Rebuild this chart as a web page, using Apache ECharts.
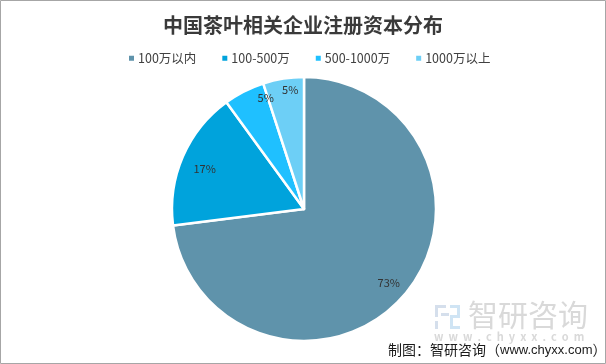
<!DOCTYPE html>
<html>
<head>
<meta charset="utf-8">
<style>
  html, body { margin: 0; padding: 0; background: #fff; }
  #chart { width: 606px; height: 364px; }
</style>
<script src="https://cdn.jsdelivr.net/npm/echarts@6/dist/echarts.min.js"></script>
</head>
<body>
<div id="chart"></div>
<script>
const categories = ['100万以内', '100-500万', '500-1000万', '1000万以上'];
const shares = [73, 17, 5, 5];
const colors = ['#5F93AB', '#00A3DC', '#1FC0FF', '#6DCFF6'];
// label shift from the default inside position
const labelShift = [[33, 28], [-36, -13], [-7, -50], [-3, -51]];

const font = '"Noto Sans CJK SC", "Noto Sans", sans-serif';

const chart = echarts.init(document.getElementById('chart'));
chart.setOption({
  animation: false,
  title: {
    text: '中国茶叶相关企业注册资本分布',
    left: 'center',
    top: 10,
    textStyle: { fontFamily: font, fontSize: 20, fontWeight: 'bold', color: '#3a3a3a' }
  },
  legend: {
    top: 47,
    left: 122,
    icon: 'rect',
    itemWidth: 7,
    itemHeight: 7,
    itemGap: 24,
    textStyle: { fontFamily: font, fontSize: 12.5, color: '#404040', padding: [0, 0, 0, -2] },
    data: categories
  },
  color: colors,
  series: [{
    type: 'pie',
    center: [304, 209],
    radius: [0, 132],
    startAngle: 90,
    clockwise: true,
    itemStyle: { borderColor: '#fff', borderWidth: 2.5 },
    label: {
      position: 'inside',
      formatter: '{c}%',
      fontFamily: font,
      fontSize: 11,
      color: '#333'
    },
    labelLine: { show: false },
    labelLayout: params => ({ dx: labelShift[params.dataIndex][0], dy: labelShift[params.dataIndex][1] }),
    emphasis: { disabled: true },
    data: categories.map((name, i) => ({ name, value: shares[i] }))
  }],
  graphic: [
    // frame
    { type: 'rect', silent: true, shape: { x: 0.5, y: 0.5, width: 605, height: 363 },
      style: { fill: 'none', stroke: '#a6a6a6', lineWidth: 1 } },
    // watermark logo
    { type: 'rect', shape: { x: 435, y: 305, width: 11, height: 3 }, style: { fill: '#d5dfec' } },
    { type: 'rect', shape: { x: 435, y: 305, width: 3, height: 12 }, style: { fill: '#d5dfec' } },
    { type: 'rect', shape: { x: 435, y: 321, width: 3, height: 8 }, style: { fill: '#d5dfec' } },
    { type: 'rect', shape: { x: 441, y: 313, width: 8, height: 3 }, style: { fill: '#d5dfec' } },
    { type: 'rect', shape: { x: 450, y: 305, width: 10, height: 3 }, style: { fill: '#cfe4f4' } },
    { type: 'rect', shape: { x: 457, y: 305, width: 3, height: 13 }, style: { fill: '#cfe4f4' } },
    { type: 'rect', shape: { x: 450, y: 315, width: 10, height: 3 }, style: { fill: '#cfe4f4' } },
    { type: 'rect', shape: { x: 450, y: 315, width: 3, height: 14 }, style: { fill: '#cfe4f4' } },
    { type: 'rect', shape: { x: 450, y: 326, width: 10, height: 3 }, style: { fill: '#cfe4f4' } },
    // watermark text
    { type: 'text', x: 468, y: 300, silent: true,
      style: { text: '智研咨询', fontFamily: font, fontSize: 30, fill: '#d9d9d9' } },
    { type: 'text', x: 434, y: 331, silent: true,
      style: { text: 'w  w  w  .  c  h  y  x  x  .  c  o  m', fontFamily: font, fontSize: 11, fontWeight: 'bold', fill: '#d9d9d9' } },
    // source
    { type: 'text', x: 388, y: 343, silent: true,
      style: {
        text: '{a|制图：智研咨询（}{b|www.chyxx.com}{a|）}',
        rich: {
          a: { fontFamily: font, fontSize: 14, fill: '#1a1a1a' },
          b: { fontFamily: '"Liberation Sans", sans-serif', fontSize: 13, fill: '#1a1a1a' }
        }
      } }
  ]
});
</script>
</body>
</html>
